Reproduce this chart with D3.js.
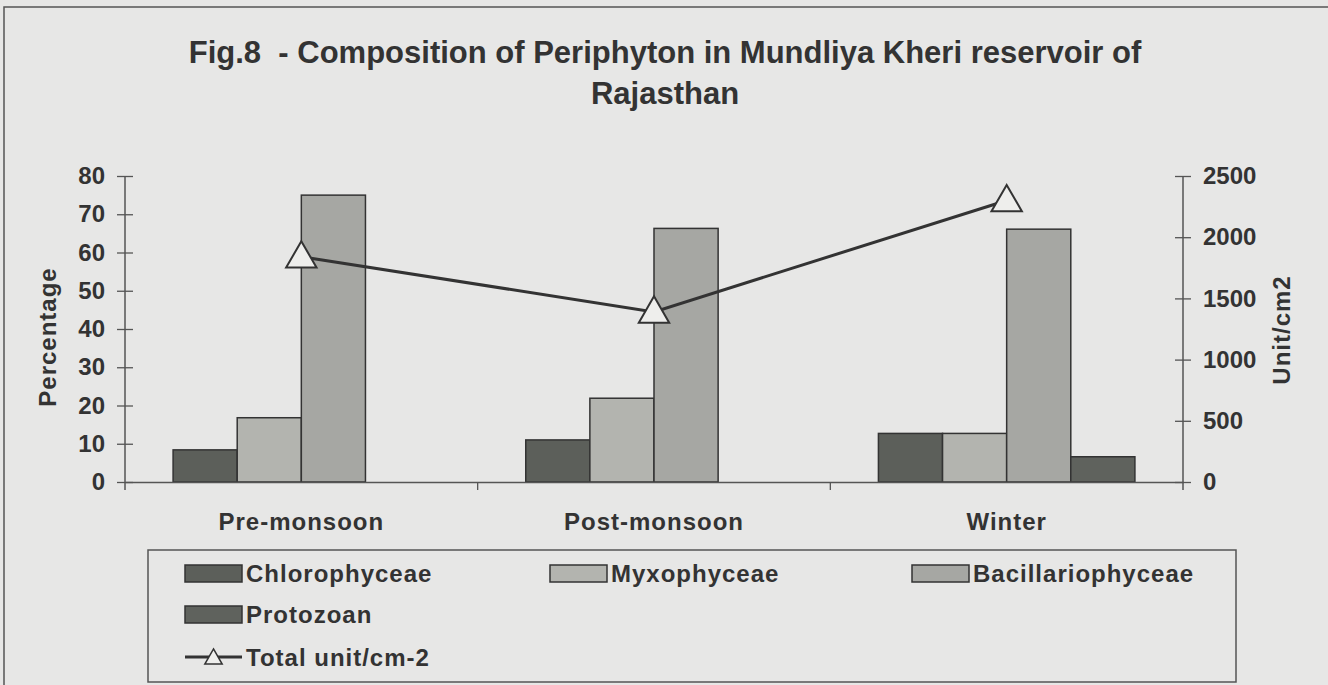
<!DOCTYPE html>
<html>
<head>
<meta charset="utf-8">
<script src="https://cdn.jsdelivr.net/npm/d3@7"></script>
<style>
  html, body { margin: 0; padding: 0; background: #e7e7e6; }
  svg { display: block; font-family: "Liberation Sans", Arial, sans-serif; }
  text { fill: #333; font-weight: bold; }
</style>
</head>
<body>
<div id="chart"></div>
<script>
const categories = ['Pre-monsoon', 'Post-monsoon', 'Winter'];
const seriesNames = ['Chlorophyceae', 'Myxophyceae', 'Bacillariophyceae', 'Protozoan'];
const chlorophyceae = [8.4, 11.0, 12.7];
const myxophyceae = [16.8, 21.9, 12.7];
const bacillariophyceae = [75.0, 66.3, 66.1];
const protozoan = [0, 0, 6.6];
const totalUnits = [1840, 1390, 2300];
const percentTicks = [0, 10, 20, 30, 40, 50, 60, 70, 80];
const unitTicks = [0, 500, 1000, 1500, 2000, 2500];

const width = 1328;
const height = 685;
const plot = { left: 125, right: 1183, top: 176, bottom: 482 };
const fills = ['#5c5f5a', '#b3b4af', '#a6a7a3', '#5f625d'];
const ink = '#333';

const series = [chlorophyceae, myxophyceae, bacillariophyceae, protozoan];

const svg = d3.select('#chart')
  .append('svg')
  .attr('width', width)
  .attr('height', height);

// outer frame of the scanned figure
svg.append('rect')
  .attr('x', 4).attr('y', 7)
  .attr('width', width + 20).attr('height', height + 20)
  .attr('fill', 'none').attr('stroke', '#555').attr('stroke-width', 1.5);

// title
svg.append('text')
  .attr('x', 665).attr('y', 63)
  .attr('text-anchor', 'middle')
  .style('font-size', '31px')
  .style('white-space', 'pre')
  .text('Fig.8  - Composition of Periphyton in Mundliya Kheri reservoir of');
svg.append('text')
  .attr('x', 665).attr('y', 104)
  .attr('text-anchor', 'middle')
  .style('font-size', '31px')
  .text('Rajasthan');

let x = d3.scaleBand()
  .domain(categories)
  .range([plot.left, plot.right]);
let xSub = d3.scaleBand()
  .domain(seriesNames)
  .range([0, x.bandwidth()])
  .paddingOuter(0.75);
let yLeft = d3.scaleLinear().domain([0, 80]).range([plot.bottom, plot.top]);
let yRight = d3.scaleLinear().domain([0, 2500]).range([plot.bottom, plot.top]);

// bars
let groups = svg.append('g').selectAll('g')
  .data(categories)
  .join('g')
  .attr('transform', d => `translate(${x(d)},0)`);

groups.selectAll('rect')
  .data((d, i) => seriesNames.map((s, j) => ({ s, j, v: series[j][i] })).filter(e => e.v > 0))
  .join('rect')
  .attr('x', d => xSub(d.s))
  .attr('width', xSub.bandwidth())
  .attr('y', d => yLeft(d.v))
  .attr('height', d => yLeft(0) - yLeft(d.v))
  .attr('fill', d => fills[d.j])
  .attr('stroke', ink)
  .attr('stroke-width', 1.5);

// left axis
let gl = svg.append('g')
  .attr('transform', `translate(${plot.left},0)`)
  .call(d3.axisLeft(yLeft).tickValues(percentTicks).tickSize(8).tickPadding(12));
gl.select('.domain').remove();
gl.selectAll('.tick line').attr('x1', 8).attr('stroke', '#555').attr('stroke-width', 1.3);
gl.selectAll('.tick text').style('font-size', '24px').attr('fill', ink);
gl.append('line')
  .attr('y1', plot.top).attr('y2', plot.bottom + 8)
  .attr('stroke', '#555').attr('stroke-width', 1.5);

// right axis
let gr = svg.append('g')
  .attr('transform', `translate(${plot.right},0)`)
  .call(d3.axisRight(yRight).tickValues(unitTicks).tickFormat(d3.format('d')).tickSize(8).tickPadding(12));
gr.select('.domain').remove();
gr.selectAll('.tick line').attr('x1', -8).attr('stroke', '#555').attr('stroke-width', 1.3);
gr.selectAll('.tick text').style('font-size', '24px').attr('fill', ink);
gr.append('line')
  .attr('y1', plot.top).attr('y2', plot.bottom + 8)
  .attr('stroke', '#555').attr('stroke-width', 1.5);

// category axis
let gb = svg.append('g')
  .attr('transform', `translate(0,${plot.bottom})`)
  .call(d3.axisBottom(x).tickSize(0).tickPadding(31));
gb.select('.domain').attr('stroke', '#555').attr('stroke-width', 1.5);
gb.selectAll('.tick text').style('font-size', '24px').style('letter-spacing', '1px').attr('fill', ink);
gb.selectAll('.sep')
  .data(categories.slice(1))
  .join('line')
  .attr('x1', d => x(d)).attr('x2', d => x(d))
  .attr('y1', 0).attr('y2', 8)
  .attr('stroke', '#555').attr('stroke-width', 1.3);

// axis titles
svg.append('text')
  .attr('transform', 'translate(56,337) rotate(-90)')
  .attr('text-anchor', 'middle')
  .style('font-size', '24px').style('letter-spacing', '1px')
  .text('Percentage');
svg.append('text')
  .attr('transform', 'translate(1290,330) rotate(-90)')
  .attr('text-anchor', 'middle')
  .style('font-size', '24px').style('letter-spacing', '1px')
  .text('Unit/cm2');

// total line with triangles
const triangle = d3.symbol().type(d3.symbolTriangle).size(400);
let points = categories.map((c, i) => [x(c) + x.bandwidth() / 2, yRight(totalUnits[i])]);
svg.append('path')
  .attr('d', d3.line()(points))
  .attr('fill', 'none')
  .attr('stroke', ink)
  .attr('stroke-width', 3);
svg.append('g').selectAll('path')
  .data(points)
  .join('path')
  .attr('d', triangle())
  .attr('transform', d => `translate(${d[0]},${d[1] + 2})`)
  .attr('fill', '#eeeeec')
  .attr('stroke', ink)
  .attr('stroke-width', 2);

// legend
let legend = svg.append('g');
legend.append('rect')
  .attr('x', 148).attr('y', 550)
  .attr('width', 1088).attr('height', 132)
  .attr('fill', 'none').attr('stroke', '#555').attr('stroke-width', 1.5);

const legendPos = [[185, 573], [550, 573], [912, 573], [185, 614]];
let items = legend.selectAll('g.item')
  .data(seriesNames)
  .join('g')
  .attr('class', 'item')
  .attr('transform', (d, i) => `translate(${legendPos[i][0]},${legendPos[i][1]})`);
items.append('rect')
  .attr('x', 0).attr('y', -8)
  .attr('width', 57).attr('height', 17)
  .attr('fill', (d, i) => fills[i])
  .attr('stroke', ink).attr('stroke-width', 1.5);
items.append('text')
  .attr('x', 61).attr('dy', '0.36em')
  .style('font-size', '24px').style('letter-spacing', '1px')
  .text(d => d);

let lineItem = legend.append('g').attr('transform', 'translate(185,657)');
lineItem.append('line')
  .attr('x1', 0).attr('x2', 57)
  .attr('stroke', ink).attr('stroke-width', 3);
lineItem.append('path')
  .attr('d', d3.symbol().type(d3.symbolTriangle).size(130)())
  .attr('transform', 'translate(28.5,2)')
  .attr('fill', '#eeeeec').attr('stroke', ink).attr('stroke-width', 1.5);
lineItem.append('text')
  .attr('x', 61).attr('dy', '0.36em')
  .style('font-size', '24px').style('letter-spacing', '1px')
  .text('Total unit/cm-2');
</script>
</body>
</html>
